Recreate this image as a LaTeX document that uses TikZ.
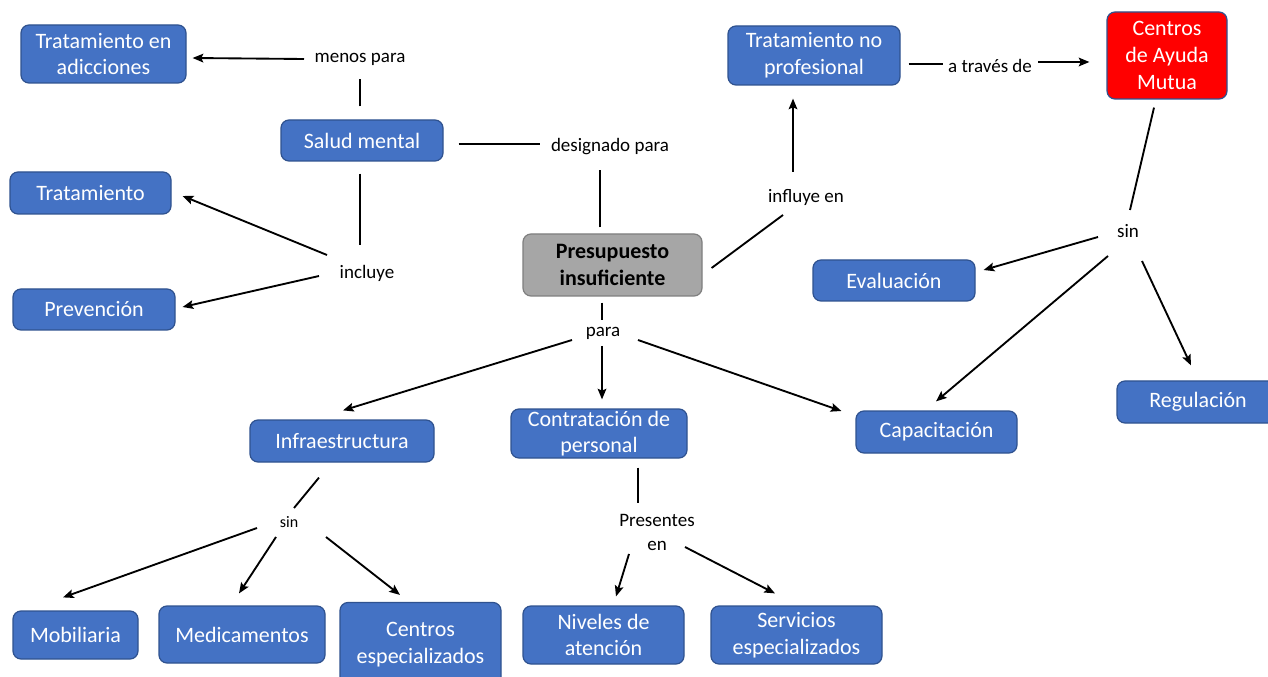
\documentclass[tikz,border=0pt]{standalone}
\usepackage{fontspec}
\setmainfont{Carlito}
\usetikzlibrary{calc,arrows.meta}
\definecolor{boxblue}{HTML}{4472C4}
\definecolor{boxedge}{HTML}{2F528F}
\definecolor{budgetgray}{HTML}{A6A6A6}
\definecolor{budgetedge}{HTML}{7F7F7F}
\begin{document}
\begin{tikzpicture}[x=0.75pt,y=-0.75pt,
  concept/.style={draw=boxedge, fill=boxblue, text=white, rounded corners=6pt,
    line width=0.9pt, align=center, inner sep=0pt,
    font=\fontsize{16.5}{20}\selectfont},
  sz/.style 2 args={minimum width=#1*0.75pt, minimum height=#2*0.75pt},
  budget/.style={concept, draw=budgetedge, fill=budgetgray, text=black,
    font=\fontsize{16.5}{20}\selectfont\bfseries},
  mutual/.style={concept, fill=red},
  linkword/.style={align=center, inner sep=1pt,
    font=\fontsize{14.25}{18}\selectfont},
  smallword/.style={linkword, font=\fontsize{12}{15}\selectfont},
  link/.style={line width=1.4pt},
  arr/.style={link, -{Stealth[length=8pt,width=6.5pt,inset=1.5pt]}}
]
\clip (0,0) rectangle (1268,677);
\fill[white] (0,0) rectangle (1268,677);

% concept boxes
\node[concept, sz={165}{58}] (tea) at (103.5,54) {Tratamiento en\\adicciones};
\node[concept, sz={162}{41}] (sm)  at (362,140.5) {Salud mental};
\node[concept, sz={161}{42}] (tra) at (90.5,193) {Tratamiento};
\node[concept, sz={162}{41}] (pre) at (94,309.5) {Prevención};
\node[budget,  sz={179}{62}] (pi)  at (612.5,265) {Presupuesto\\insuficiente};
\node[concept, sz={172}{59}] (tnp) at (814,55.5) {Tratamiento no\\profesional};
\node[mutual,  sz={120}{87}] (cam) at (1167,55.5) {Centros\\de Ayuda\\Mutua};
\node[concept, sz={162}{41}] (eva) at (894,280.5) {Evaluación};
\node[concept, sz={162}{42}] (reg) at (1198,402) {Regulación};
\node[concept, sz={161}{42}] (cap) at (936.5,432) {Capacitación};
\node[concept, sz={184}{42}] (inf) at (342,441) {Infraestructura};
\node[concept, sz={176}{49}] (con) at (599,433.5) {Contratación de\\personal};
\node[concept, sz={161}{58}] (niv) at (603.5,635) {Niveles de\\atención};
\node[concept, sz={171}{58}] (ser) at (796.5,635) {Servicios\\especializados};
\node[concept, sz={125}{48}] (mob) at (75.5,635) {Mobiliaria};
\node[concept, sz={166}{57}] (med) at (242,634.5) {Medicamentos};
\node[concept, sz={161}{84}] (ces) at (420.5,644.5) {Centros\\especializados};

% linking words
\node[linkword] (mp)   at (360,59)   {menos para};
\node[linkword] (dp)   at (610,147)  {designado para};
\node[linkword] (inc)  at (367,273)  {incluye};
\node[linkword] (ie)   at (806,197)  {influye en};
\node[linkword] (atd)  at (990,66)   {a través de};
\node[linkword] (sin1) at (1128,231) {sin};
\node[linkword] (para) at (603,333)  {para};
\node[smallword] (sin2) at (289,522) {sin};
\node[linkword] (pen)  at (657,532)  {Presentes\\en};

% connectors
\draw[arr]  ($(mp)+(-56,0)$) -- ($(tea.east)+(6,4)$);
\draw[link] ($(sm.north)+(-2,-13)$) -- ($(mp)+(0,20)$);
\draw[link] ($(sm.east)+(15,3.5)$) -- ($(dp)+(-70,-3)$);
\draw[link] ($(pi.north)+(-12.5,-6)$) -- ($(dp)+(-10,23)$);
\draw[link] ($(sm.south)+(-2,12)$) -- ($(inc)+(-7,-28)$);
\draw[arr]  ($(inc)+(-40,-18)$) -- ($(tra.east)+(11,3)$);
\draw[arr]  ($(inc)+(-48,3)$) -- ($(pre.east)+(7,-2.5)$);
\draw[link] ($(pi.east)+(9,3)$) -- ($(ie)+(-23,18)$);
\draw[arr]  ($(ie)+(-13,-25)$) -- ($(tnp.south)+(-21,13)$);
\draw[link] ($(tnp.east)+(8,8.5)$) -- ($(atd)+(-47,-2)$);
\draw[arr]  ($(atd)+(48,-4)$) -- ($(cam.west)+(-17,6.5)$);
\draw[link] ($(cam.south)+(-13,8)$) -- ($(sin1)+(2,-21)$);
\draw[arr]  ($(sin1)+(-30,6)$) -- ($(eva.east)+(8,-10.5)$);
\draw[arr]  ($(sin1)+(-20,25)$) -- ($(cap.north)+(-0.5,-9)$);
\draw[arr]  ($(sin1)+(14,30)$) -- ($(reg.north)+(-7,-15)$);
\draw[link] ($(pi.south)+(-10.5,6)$) -- ($(para)+(-1,-13)$);
\draw[arr]  ($(para)+(-31,7)$) -- ($(inf.north)+(1,-9)$);
\draw[arr]  ($(para)+(-1,13)$) -- ($(con.north)+(3,-9)$);
\draw[arr]  ($(para)+(35,7)$) -- ($(cap.west)+(-14,-21)$);
\draw[link] ($(inf.south)+(-23,15)$) -- ($(sin2)+(5,-14)$);
\draw[arr]  ($(sin2)+(-32,6)$) -- ($(mob.north)+(-12.5,-13)$);
\draw[arr]  ($(sin2)+(-13,15)$) -- ($(med.north)+(-3,-12)$);
\draw[arr]  ($(sin2)+(37,15)$) -- ($(ces.north)+(-20.5,-7)$);
\draw[link] ($(con.south)+(39,9)$) -- ($(pen)+(-19,-29)$);
\draw[arr]  ($(pen)+(-28,22)$) -- ($(niv.north)+(12.5,-9)$);
\draw[arr]  ($(pen)+(28,15)$) -- ($(ser.north)+(-21.5,-12)$);
\end{tikzpicture}
\end{document}
